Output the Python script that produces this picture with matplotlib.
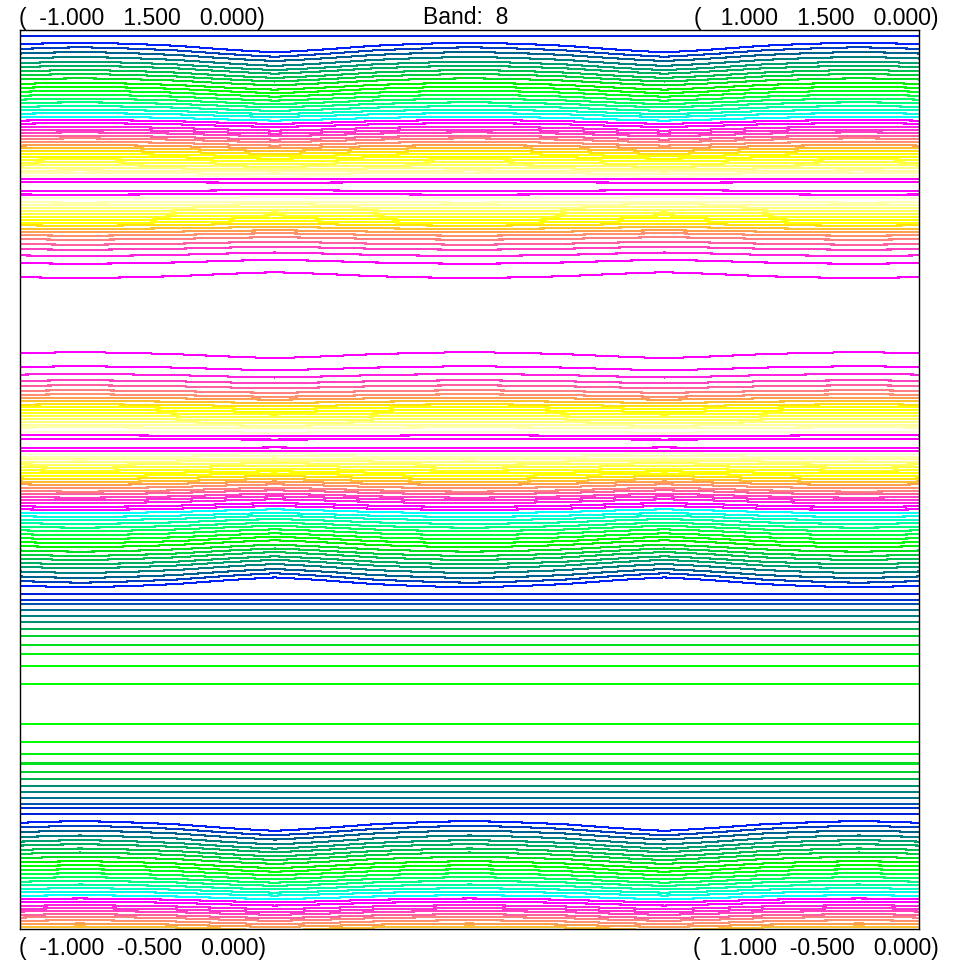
import numpy as np
import matplotlib
matplotlib.use("Agg")
import matplotlib.pyplot as plt

plt.rcParams['font.family'] = ['Liberation Sans', 'DejaVu Sans']

# band 8 contour levels, read along the kx = -1 edge between Gamma (ky=0) and K (ky=sqrt(3)/2)
# line_t: distance of each contour from Gamma in ky units
line_t = [0.7830, 0.7518, 0.7347, 0.7207, 0.7096, 0.6984, 0.6895, 0.6820, 0.6746, 0.6673,
          0.6613, 0.6546, 0.6479, 0.6413, 0.6346, 0.6279, 0.6219, 0.6161, 0.6063, 0.5983,
          0.5901, 0.5701, 0.5627, 0.5561, 0.5501, 0.5445, 0.5389, 0.5329, 0.5263, 0.5196,
          0.5138, 0.5078, 0.5011, 0.4944, 0.4878, 0.4804, 0.4729, 0.4671, 0.4595, 0.4537,
          0.4471, 0.4388, 0.4321, 0.4248, 0.4166, 0.4092, 0.4010, 0.3928, 0.3848, 0.3759,
          0.3670, 0.3581, 0.3492, 0.3394, 0.3298, 0.3209, 0.3113, 0.3024, 0.2920, 0.2809,
          0.2704, 0.2602, 0.2446, 0.2313, 0.2224, 0.2090, 0.1957, 0.1823, 0.1674, 0.1512,
          0.1318, 0.1118, 0.0844, 0.0444]

# shift of each contour (ky units) under the hump at kx = +-0.433, + means toward K
line_shift = [-0.0133, -0.0089, -0.0078, -0.0067, -0.0067, -0.0056, -0.0056, -0.0044, -0.0044, -0.0044,
              -0.0044, -0.0044, -0.0033, -0.0033, -0.0033, -0.0022, -0.0022, -0.0022, -0.0022, -0.0022,
              -0.0011, 0.0011, 0.0011, 0.0022, 0.0022, 0.0022, 0.0033, 0.0033, 0.0044, 0.0044,
              0.0044, 0.0056, 0.0067, 0.0067, 0.0078, 0.0089, 0.0089, 0.0089, 0.0089, 0.0089,
              0.0089, 0.0089, 0.0089, 0.0089, 0.0089, 0.0100, 0.0111, 0.0111, 0.0122, 0.0133,
              0.0133, 0.0145, 0.0156, 0.0156, 0.0167, 0.0178, 0.0178, 0.0189, 0.0200, 0.0200,
              0.0211, 0.0222, 0.0, 0.0, 0.0, 0.0, 0.0, 0.0, 0.0, 0.0,
              0.0, 0.0, 0.0, 0.0]

line_colors = ['#ff00ff', '#ff00ff', '#ff20e0', '#ff40c0', '#ff60a0', '#ff8080', '#ff9070', '#ffa050', '#ffc030', '#ffe010',
               '#ffff00', '#ffff00', '#ffff20', '#ffff40', '#ffff60', '#ffff80', '#ffffa0', '#ffffb0', '#ffffd0', '#ff00ff',
               '#ff00ff', '#ff00ff', '#ff00ff', '#ffffd0', '#ffffb0', '#ffffa0', '#ffff80', '#ffff60', '#ffff40', '#ffff20',
               '#ffff00', '#ffff00', '#ffe010', '#ffc030', '#ffa050', '#ff9070', '#ff8080', '#ff60a0', '#ff40c0', '#ff30d0',
               '#ff20e0', '#ff00ff', '#ff00ff', '#00ffff', '#00ffe0', '#00ffc0', '#00ffa0', '#00ff80', '#00ff60', '#00ff40',
               '#00ff20', '#00ff00', '#00f000', '#00e020', '#00d040', '#00c050', '#00b060', '#00a070', '#008080', '#006090',
               '#0040c0', '#0020ff', '#0020e0', '#0030d0', '#0050b0', '#007090', '#008080', '#009070', '#00b050', '#00d030',
               '#00e020', '#00f010', '#00ff00', '#00ff00']

# hump profile across kx (distance from hump centre -> weight)
hump_dk = [0.0, 0.067, 0.12, 0.17, 0.22, 0.30, 0.38, 0.433]
hump_w = [1.0, 0.83, 0.67, 0.50, 0.33, 0.17, 0.05, 0.0]
hump_period = 0.866
hump_center = 0.433
t_gamma, t_k = 0.0, 0.866

corner_labels = ['(  -1.000   1.500   0.000)', '(   1.000   1.500   0.000)',
                 '(  -1.000  -0.500   0.000)', '(   1.000  -0.500   0.000)']
title = 'Band:  8'

# grid
kx = np.linspace(-1.0, 1.0, 901)
ky = np.linspace(-0.5, 1.5, 901)
KX, KY = np.meshgrid(kx, ky)

# fold ky onto the Gamma-K segment (mirror at ky=0 and ky=sqrt(3)/2)
per = 2 * t_k
tt = np.mod(ky, per)
tt = np.where(tt > t_k, per - tt, tt)

d = np.abs(np.mod(kx - hump_center, hump_period))
d = np.minimum(d, hump_period - d)
w = np.interp(d, hump_dk, hump_w)

lt = np.array(line_t)
ls = np.array(line_shift)
idx = np.arange(len(lt), dtype=float)
Z = np.zeros_like(KX)
for j in range(len(kx)):
    knots = lt + w[j] * ls
    xs = np.concatenate(([t_gamma], knots[::-1], [t_k]))
    ys = np.concatenate(([len(lt) - 0.4], idx[::-1], [-0.4]))
    Z[:, j] = np.interp(tt, xs, ys)

fig = plt.figure(figsize=(9.54, 9.68), dpi=100)
ax = fig.add_axes([20 / 954, 39 / 968, 899 / 954, 899 / 968])
ax.contour(KX, KY, Z, levels=idx, colors=line_colors, linewidths=0.75,
           antialiased=False)
ax.set_xlim(-1, 1)
ax.set_ylim(-0.5, 1.5)
ax.set_xticks([])
ax.set_yticks([])
for s in ax.spines.values():
    s.set_linewidth(1.0)
    s.set_color('black')

fs = 16.5
fig.text(19 / 954, 1 - 18 / 968, corner_labels[0], ha='left', va='center', fontsize=fs)
fig.text(939 / 954, 1 - 18 / 968, corner_labels[1], ha='right', va='center', fontsize=fs)
fig.text(19 / 954, 1 - 948 / 968, corner_labels[2], ha='left', va='center', fontsize=fs)
fig.text(939 / 954, 1 - 948 / 968, corner_labels[3], ha='right', va='center', fontsize=fs)
fig.text(466 / 954, 1 - 18 / 968, title, ha='center', va='center', fontsize=fs)

fig.savefig('out.png', dpi=100)
